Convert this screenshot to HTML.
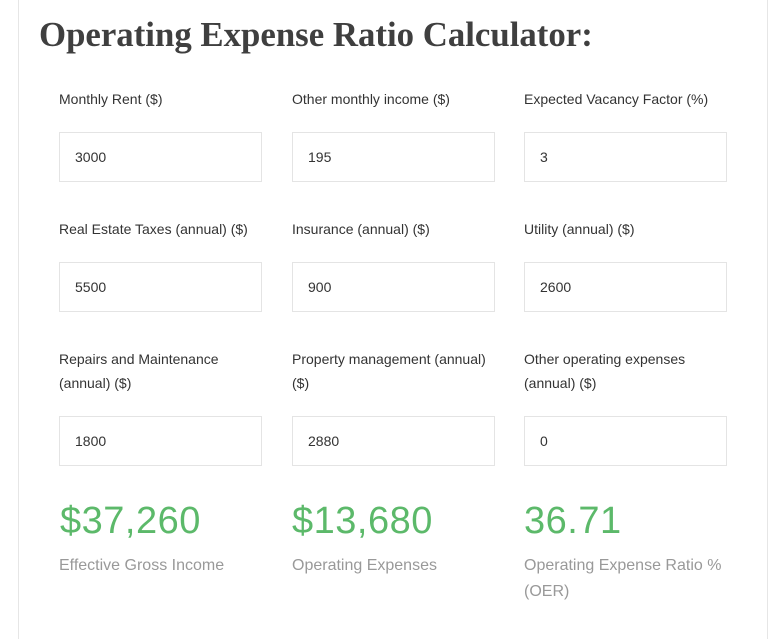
<!DOCTYPE html>
<html><head><style>
html,body{margin:0;width:783px;height:639px;background:#fff;position:relative;overflow:hidden;font-family:"Liberation Sans",sans-serif}
.card{position:absolute;left:18px;top:0;width:750px;height:639px;border-left:1px solid #e6e6e6;border-right:1px solid #e6e6e6;box-sizing:border-box}
h1{position:absolute;left:39px;top:15px;margin:0;font-family:"Liberation Serif",serif;font-weight:bold;font-size:34.8px;color:#3f3f3f;white-space:nowrap;line-height:40px}
.l{position:absolute;font-size:14px;color:#333;line-height:24px;width:210px}
.i{position:absolute;width:203px;height:50px;border:1px solid #e4e4e4;box-sizing:border-box;font-size:14px;color:#333;line-height:48px;padding-left:15px}
.n{position:absolute;font-size:38px;color:#5cb96a;font-weight:300;top:500px;letter-spacing:0.5px}
.c{position:absolute;font-size:16px;color:#999;line-height:26px;top:553px;width:210px}
</style></head><body>
<div class="card"></div>
<h1>Operating Expense Ratio Calculator:</h1>
<div class="l" style="left:59px;top:87px">Monthly Rent ($)</div>
<div class="l" style="left:292px;top:87px">Other monthly income ($)</div>
<div class="l" style="left:524px;top:87px">Expected Vacancy Factor (%)</div>
<div class="i" style="left:59px;top:132px">3000</div>
<div class="i" style="left:292px;top:132px">195</div>
<div class="i" style="left:524px;top:132px">3</div>
<div class="l" style="left:59px;top:217px">Real Estate Taxes (annual) ($)</div>
<div class="l" style="left:292px;top:217px">Insurance (annual) ($)</div>
<div class="l" style="left:524px;top:217px">Utility (annual) ($)</div>
<div class="i" style="left:59px;top:262px">5500</div>
<div class="i" style="left:292px;top:262px">900</div>
<div class="i" style="left:524px;top:262px">2600</div>
<div class="l" style="left:59px;top:347px">Repairs and Maintenance (annual) ($)</div>
<div class="l" style="left:292px;top:347px">Property management (annual) ($)</div>
<div class="l" style="left:524px;top:347px;width:190px">Other operating expenses (annual) ($)</div>
<div class="i" style="left:59px;top:416px">1800</div>
<div class="i" style="left:292px;top:416px">2880</div>
<div class="i" style="left:524px;top:416px">0</div>
<div class="n" style="left:60px">$37,260</div>
<div class="n" style="left:292px">$13,680</div>
<div class="n" style="left:524px">36.71</div>
<div class="c" style="left:59px">Effective Gross Income</div>
<div class="c" style="left:292px">Operating Expenses</div>
<div class="c" style="left:524px">Operating Expense Ratio % (OER)</div>
</body></html>
